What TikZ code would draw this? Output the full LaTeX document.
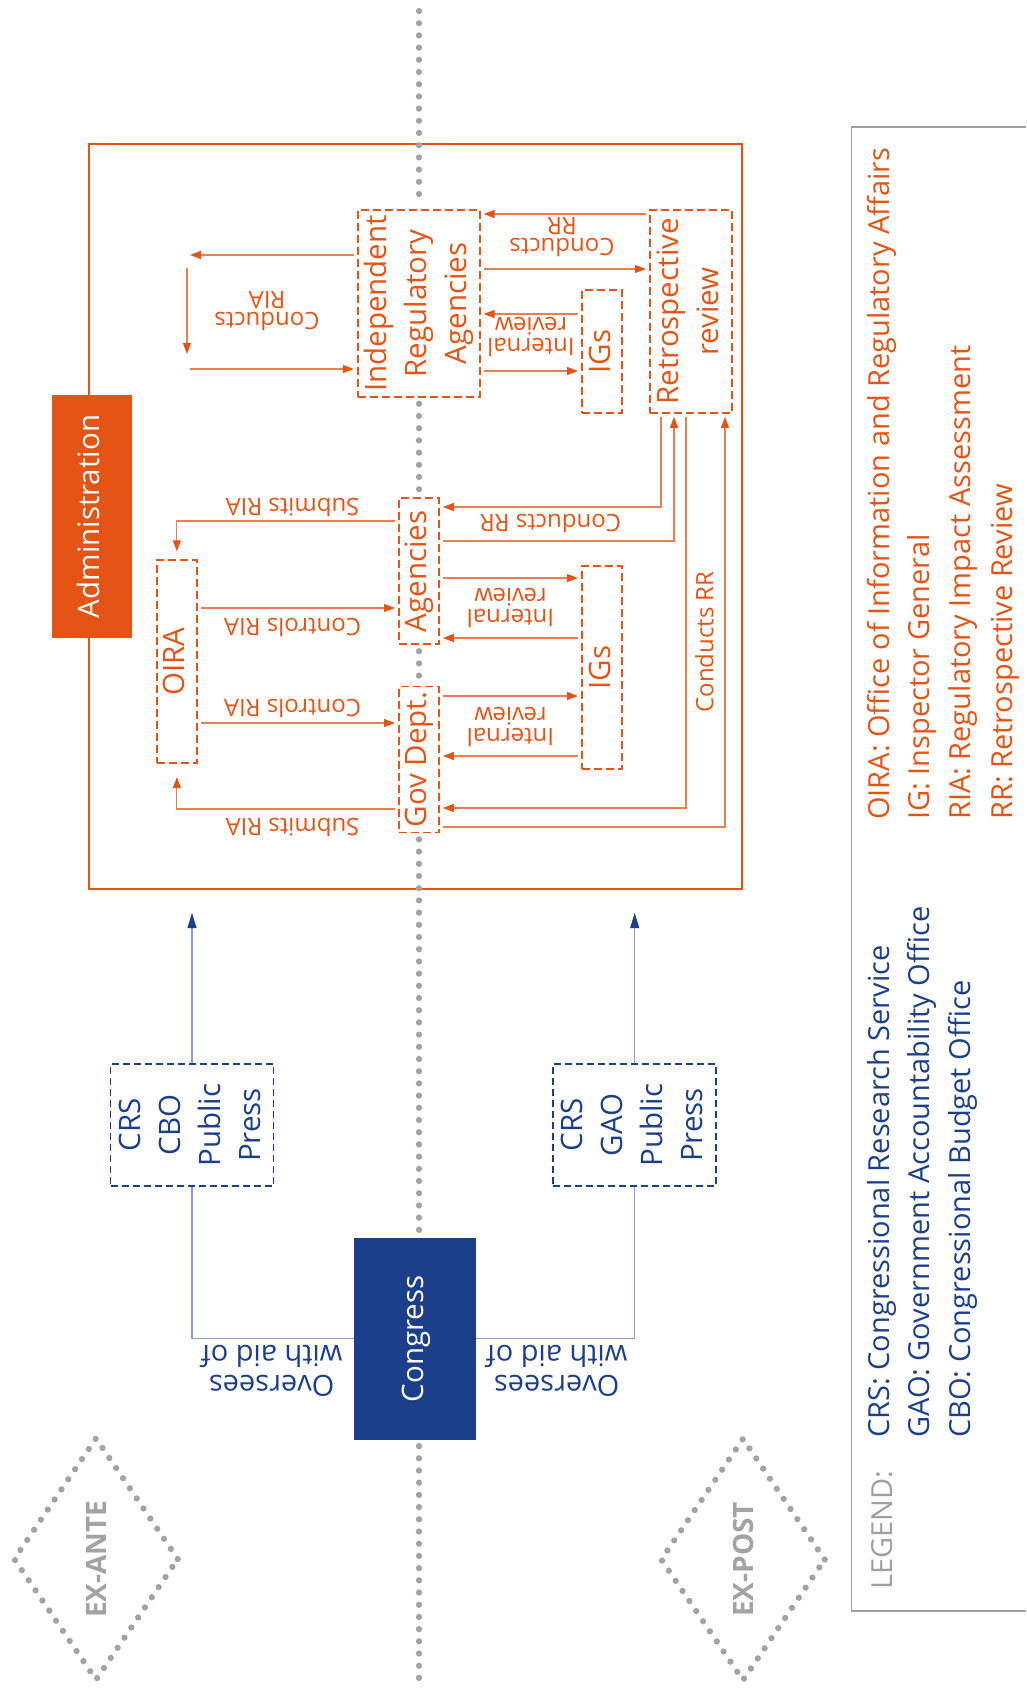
\documentclass[tikz,border=0pt]{standalone}
\usepackage{fontspec}
\setmainfont{Open Sans}
\usepackage{tikz}
\usetikzlibrary{shapes.geometric, arrows.meta, positioning}
\definecolor{adminorange}{RGB}{229, 84, 20}
\definecolor{congressblue}{RGB}{28, 63, 140}
\definecolor{lineblue}{RGB}{140, 155, 205}
\definecolor{dotgray}{RGB}{163, 163, 163}
\definecolor{legendgray}{RGB}{160, 160, 160}

\newcommand{\mainsize}{\fontsize{29.5}{40}\selectfont}
\newcommand{\lblsize}{\fontsize{24}{21}\selectfont}
\newcommand{\oversize}{\fontsize{29}{30}\selectfont}
\newcommand{\legsize}{\fontsize{29}{40}\selectfont}
\newcommand{\phasesize}{\fontsize{28}{30}\selectfont\bfseries}
\newcommand{\vtext}[1]{\rotatebox{90}{\begin{tabular}{@{}c@{}}#1\end{tabular}}}

\tikzset{
  obox/.style={draw=adminorange, fill=white, line width=1.8pt, dash pattern=on 8pt off 4pt, inner sep=0pt, text=adminorange, font=\mainsize},
  bbox/.style={draw=congressblue, fill=white, line width=1.5pt, dash pattern=on 7pt off 4pt, inner sep=0pt, text=congressblue, font=\mainsize},
  solidbox/.style={draw=none, inner sep=0pt, text=white, font=\mainsize},
  oarr/.style={draw=adminorange!75, line width=1.1pt, -{Triangle[length=11pt, width=8pt, color=adminorange]}, shorten >=3pt, shorten <=3pt},
  bline/.style={draw=lineblue, line width=1.1pt},
  barr/.style={bline, -{Triangle[length=15pt, width=9pt, color=congressblue]}},
  lbl/.style={text=adminorange, font=\lblsize, align=center, inner sep=0pt},
  flip/.style={lbl, rotate=180},
  dots/.style={draw=dotgray, line width=6.3pt, line cap=round, dash pattern=on 0pt off 12.2pt},
  phase/.style={diamond, dots, minimum width=166pt, minimum height=244pt, inner sep=0pt, text=dotgray, font=\phasesize},
  leg/.style={rotate=90, anchor=west, inner sep=0pt, font=\legsize},
  legline/.style={draw=legendgray, line width=1.5pt}
}

\begin{document}
\begin{tikzpicture}[x=1pt, y=-1pt]
\useasboundingbox (0,0) rectangle (1026,1689);

% Administration
\node[draw=adminorange, line width=1.6pt, minimum width=653pt, minimum height=745pt, inner sep=0pt] (adminbox) at (415.4,516.7) {};
\node[solidbox, fill=adminorange, minimum width=80pt, minimum height=243pt] (admin) at (91.9,516.5) {\vtext{Administration}};

\node[obox, minimum width=122pt, minimum height=187pt] (ira) at (418.7,303.4) {\vtext{Independent\\Regulatory\\Agencies}};
\node[obox, minimum width=40pt, minimum height=123pt] (igsA) at (602,351.4) {\vtext{IGs}};
\node[obox, minimum width=82pt, minimum height=203pt] (retro) at (690.9,311.4) {\vtext{Retrospective\\review}};
\node[obox, minimum width=40pt, minimum height=203pt] (oira) at (176.9,661.7) {\vtext{OIRA}};
\node[obox, minimum width=40pt, minimum height=146pt] (agen) at (418.9,571.3) {\vtext{Agencies}};
\node[obox, minimum width=40pt, minimum height=146pt] (gov) at (418.9,759.5) {\vtext{Gov Dept.}};
\node[obox, minimum width=40pt, minimum height=203pt] (igsB) at (602,667.4) {\vtext{IGs}};

% independent agencies
\coordinate (riaTop) at (187,255);
\coordinate (riaDownA) at (187,265);
\coordinate (riaDownB) at (187,357);
\coordinate (riaBot) at (187,369);
\draw[oarr] (ira.west |- riaTop) -- (riaTop);
\draw[oarr] (riaDownA) -- (riaDownB);
\draw[oarr] (riaBot) -- (ira.west |- riaBot);
\node[flip] (lria) at (267,311) {Conducts\\RIA};

\draw[oarr] (retro.west |- 0,214) -- (ira.east |- 0,214);
\draw[oarr] (ira.east |- 0,269) -- (retro.west |- 0,269);
\node[flip] (lrrA) at (562,237) {Conducts\\RR};
\draw[oarr] (igsA.west |- 0,314) -- (ira.east |- 0,314);
\draw[oarr] (ira.east |- 0,371) -- (igsA.west |- 0,371);
\node[flip] (lirA) at (531,337) {Internal\\review};

% agencies and departments
\draw[oarr] (agen.west |- 0,521) -| ([yshift=5pt]oira.north);
\node[flip] (lsubA) at (292.5,507) {Submits RIA};
\draw[oarr] (oira.east |- 0,608) -- (agen.west |- 0,608);
\node[flip] (lconA) at (292.5,627) {Controls RIA};
\draw[oarr] (oira.east |- 0,723) -- (gov.west |- 0,723);
\node[flip] (lconB) at (292.5,708) {Controls RIA};
\draw[oarr] (gov.west |- 0,809) -| ([yshift=-10pt]oira.south);
\node[flip] (lsubB) at (292.5,827) {Submits RIA};

\draw[oarr] (agen.east |- 0,578) -- (igsB.west |- 0,578);
\draw[oarr] (igsB.west |- 0,638) -- (agen.east |- 0,638);
\node[flip] (lirB) at (510.5,608) {Internal\\review};
\draw[oarr] (gov.east |- 0,696) -- (igsB.west |- 0,696);
\draw[oarr] (igsB.west |- 0,756) -- (gov.east |- 0,756);
\node[flip] (lirC) at (510.5,727) {Internal\\review};

% retrospective review
\draw[oarr] (retro.south -| 661,0) |- (agen.east |- 0,507);
\draw[oarr] (agen.east |- 0,541) -| (retro.south -| 674,0);
\node[flip] (lrrB) at (550.5,523) {Conducts RR};
\draw[oarr] (retro.south -| 686,0) |- (gov.east |- 0,808);
\draw[oarr] (gov.east |- 0,827) -| (retro.south -| 725,0);
\node[lbl, rotate=90] (lrrC) at (704.4,642) {Conducts RR};

% Congress
\node[solidbox, fill=congressblue, minimum width=122pt, minimum height=202pt] (congress) at (415.2,1338.9) {\vtext{Congress}};
\node[bbox, minimum width=163pt, minimum height=122pt] (aidante) at (192,1125) {\vtext{CRS\\CBO\\Public\\Press}};
\node[bbox, minimum width=163pt, minimum height=122pt] (aidpost) at (634.7,1125) {\vtext{CRS\\GAO\\Public\\Press}};

\draw[bline] (congress.west) -| (aidante.south);
\draw[barr, shorten >=23pt] (aidante.north) -- (aidante.north |- adminbox.south);
\draw[bline] (congress.east) -| (aidpost.south);
\draw[barr, shorten >=23pt] (aidpost.north) -- (aidpost.north |- adminbox.south);
\node[flip, text=congressblue, font=\oversize] (lovA) at (271.7,1371) {Oversees\\with aid of};
\node[flip, text=congressblue, font=\oversize] (lovB) at (556.7,1371) {Oversees\\with aid of};

% ex-ante / ex-post divider, broken at the boxes
\coordinate (divtop) at (419,11);
\coordinate (divbot) at (419,1689);
\draw[dots, shorten >=6pt] (divtop) -- (divtop |- ira.north);
\draw[dots, shorten <=6pt, shorten >=6pt] (divtop |- ira.south) -- (divtop |- agen.north);
\draw[dots, shorten <=6pt, shorten >=6pt] (divtop |- agen.south) -- (divtop |- gov.north);
\draw[dots, shorten <=6pt, shorten >=6pt] (divtop |- gov.south) -- (divtop |- congress.north);
\draw[dots, shorten <=6pt] (divtop |- congress.south) -- (divbot);

% phases
\node[phase] (exante) at (96,1559) {\rotatebox{90}{EX-ANTE}};
\node[phase] (expost) at (743,1559.5) {\rotatebox{90}{EX-POST}};

% legend
\draw[legline] (1026,127) -- (851.5,127) -- (851.5,1611) -- (1026,1611);
\node[leg, text=legendgray] (legtitle) at (882,1590) {LEGEND:};
\node[leg, text=congressblue] (lcrs) at (882,1438) {CRS: Congressional Research Service};
\node[leg, text=congressblue] (lgao) at (922,1438) {GAO: Government Accountability Office};
\node[leg, text=congressblue] (lcbo) at (963,1438) {CBO: Congressional Budget Office};
\node[leg, text=adminorange] (loira) at (882,820) {OIRA: Office of Information and Regulatory Affairs};
\node[leg, text=adminorange] (lig) at (922,820) {IG: Inspector General};
\node[leg, text=adminorange] (lria2) at (963,820) {RIA: Regulatory Impact Assessment};
\node[leg, text=adminorange] (lrr) at (1005,820) {RR: Retrospective Review};
\end{tikzpicture}
\end{document}
